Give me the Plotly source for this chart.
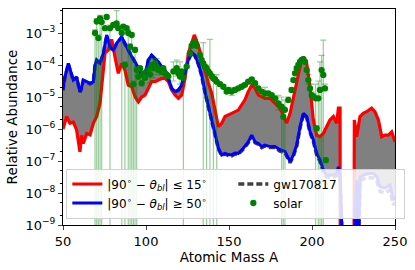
import plotly.graph_objects as go

# ---------------- data (log10 of relative abundance) ----------------
red_A = [50, 51, 52.2, 54.2, 56.2, 58.2, 59.5, 60.2, 61.2, 62.2, 64.3, 66.3, 68.3, 70.3, 72.3,
         74.3, 75.3, 77.3, 79.3, 81.3, 83.3, 85.3, 87.3, 89.3, 91.4, 93.4, 95.4, 97.4, 99.4,
         101.4, 103.4, 105.4, 107.4, 109.4, 111.4, 113.5, 115.5, 117.5, 119.5, 121.5, 123.5,
         125.5, 127.5, 129.1, 131.5, 133.5, 135.5, 137.6, 139.6, 141.6, 143.6, 145.6, 147.6,
         151.6, 155.6, 159.6, 161.6, 163.7, 165.7, 167.7, 169.7, 171.7, 174.7, 177.7, 180.7,
         182.7, 184.7, 186.8, 188.8, 190.8, 192.8, 194.8, 196.8, 198.8, 200.8, 202.8, 204.8,
         206.8, 208.8, 210.8, 212.9, 214.9, 215.9, 216.9, 217.2, 224.8, 225.5, 226.9, 228.9,
         230.9, 232.9, 235.9, 237.9, 240, 242, 244, 246, 248, 250]
red_log10 = [-6.0, -5.8, -5.61, -5.82, -5.78, -6.03, -6.5, -6.71, -6.2, -6.45, -6.14, -6.18, -5.82,
             -5.61, -5.2, -4.16, -3.63, -3.53, -3.2, -3.74, -4.26, -3.95, -4.16, -4.63, -4.68,
             -4.99, -5.15, -5.0, -4.94, -4.73, -4.52, -4.52, -4.47, -4.42, -4.42, -4.52, -4.78,
             -4.94, -5.04, -4.94, -4.42, -3.63, -3.32, -3.06, -3.38, -3.74, -4.16, -4.57, -4.89,
             -5.41, -5.93, -5.82, -5.61, -5.51, -5.41, -5.09, -4.83, -4.63, -4.73, -4.94, -5.0,
             -5.04, -5.04, -5.2, -5.35, -5.56, -5.82, -5.51, -4.99, -4.57, -4.05, -3.74, -3.95,
             -4.68, -5.72, -6.19, -6.24, -6.14, -5.93, -5.72, -5.61, -5.82, -5.35, -5.35, -20,
             -20, -5.72, -6.24, -5.61, -5.51, -5.46, -5.35, -5.46, -5.72, -6.24, -6.19, -6.19,
             -6.09, -6.4]

blue_A = [50, 51, 53.2, 54.5, 56.2, 58.2, 60.2, 61, 62.2, 64.3, 66.3, 68.3, 69.3, 70.3, 72.3,
          74.3, 76.3, 78.3, 80.3, 82.3, 84.3, 85.3, 87.3, 89.3, 91.4, 93.4, 95.4, 97.4, 99.4,
          101.4, 103.4, 105.4, 107.4, 109.4, 111.4, 113.5, 115.5, 117.5, 119.5, 121.5, 123.5,
          125.5, 127.5, 129.5, 131.5, 133.5, 135.5, 137.6, 139.6, 141.6, 143.6, 145.6, 147.6,
          149.6, 151.6, 153.6, 155.6, 158.6, 161.6, 163.7, 165.7, 167.7, 169.7, 171.7, 174.7,
          177.7, 180.7, 183.7, 186.8, 188.8, 190.8, 192.8, 194.8, 196.8, 198.8, 200.8, 202.8,
          204.8, 206.8, 208.8, 210.8, 212.9, 214.9, 215.9, 216.9, 217.2, 225, 226, 227, 228,
          229, 231, 234, 237, 239, 241, 244, 247, 249, 250]
blue_log10 = [-4.78, -4.4, -3.95, -4.2, -4.47, -4.37, -4.83, -4.75, -4.47, -4.52, -4.57, -4.52,
              -4.0, -3.84, -3.94, -3.63, -3.06, -3.43, -3.53, -3.32, -3.17, -3.12, -3.32, -3.53,
              -3.74, -3.9, -4.1, -4.31, -4.31, -3.84, -3.69, -3.79, -3.9, -4.05, -4.16, -4.42,
              -4.73, -4.83, -4.78, -4.63, -4.26, -3.84, -3.6, -3.7, -3.95, -4.31, -4.83, -5.3,
              -5.72, -6.24, -6.6, -6.81, -6.76, -6.8, -6.81, -6.75, -6.76, -6.6, -6.4, -6.19,
              -6.4, -6.45, -6.55, -6.5, -6.55, -6.55, -6.65, -6.7, -7.02, -6.81, -6.5, -5.93,
              -5.51, -5.61, -6.08, -6.34, -6.76, -6.97, -7.28, -7.44, -7.44, -7.44, -7.39, -7.18,
              -7.4, -20, -20, -8.5, -7.6, -9.5, -7.49, -7.44, -7.39, -7.39, -7.49, -7.8, -7.85,
              -7.75, -8.22, -8.1]

gw_log10 = [-4.8, -4.43, -3.97, -4.22, -4.49, -4.39, -4.85, -4.77, -4.49, -4.54, -4.59, -4.54,
            -4.02, -3.86, -3.96, -3.65, -3.08, -3.45, -3.55, -3.34, -3.19, -3.14, -3.34, -3.55,
            -3.76, -3.92, -4.12, -4.33, -4.33, -3.86, -3.71, -3.81, -3.92, -4.07, -4.18, -4.44,
            -4.75, -4.85, -4.8, -4.65, -4.28, -3.86, -3.62, -3.72, -3.97, -4.33, -4.85, -5.32,
            -5.74, -6.26, -6.62, -6.83, -6.78, -6.83, -6.84, -6.78, -6.79, -6.63, -6.43, -6.22,
            -6.43, -6.48, -6.58, -6.53, -6.58, -6.58, -6.69, -6.74, -7.05, -6.84, -6.53, -5.96,
            -5.54, -5.64, -6.11, -6.38, -6.8, -7.01, -7.32, -7.5, -7.5, -7.5, -7.45, -7.25,
            -7.46, -20, -20, -8.7, -7.72, -9.6, -7.6, -7.56, -7.52, -7.53, -7.63, -7.95, -8.0,
            -7.91, -8.38, -8.28]

# solar: A, log10 value, log10 upper bound, log10 lower bound (-12 = below axis)
solar_A = [69.3, 70.3, 71.3, 72.3, 73.3, 75.3, 76.3, 78.3, 80.3, 82.3, 83.3, 85.4, 86.3, 87.3,
           88.3, 89.3, 90.4, 91.4, 92.4, 93.4, 94.4, 95.4, 96.4, 97.4, 98.4, 99.4, 101.4, 102.4,
           103.4, 104.4, 105.4, 106.4, 107.4, 109.4, 110.4, 111.4, 112.4, 113.4, 116.5, 118.5,
           119.5, 120.5, 121.5, 122.5, 124.5, 126.5, 127.5, 128.5, 129.5, 130.5, 132.5, 133.5,
           134.5, 135.5, 136.5, 137.5, 138.5, 139.6, 140.6, 141.6, 142.6, 144.6, 146.6, 148.6,
           149.6, 151.6, 153.6, 155.6, 157.6, 159.6, 161.6, 163.7, 165.7, 167.7, 169.7, 171.7,
           173.7, 175.7, 177.7, 179.7, 181.7, 182.7, 183.7, 185.7, 187.7, 188.8, 189.8, 190.8,
           191.8, 192.8, 193.8, 194.8, 195.8, 196.8, 197.8, 198.8, 199.8, 201.0, 202.2, 202.8,
           203.8, 204.8, 205.8, 206.8, 207.8, 208.3]
solar_log10 = [-3.0, -2.64, -3.16, -2.54, -2.66, -2.85, -2.5, -2.85, -2.75, -2.7, -2.85, -3.0,
               -2.8, -4.0, -2.85, -3.0, -3.43, -3.06, -4.6, -3.53, -4.16, -4.36, -4.1, -4.57,
               -4.26, -4.4, -4.16, -4.3, -4.0, -4.1, -3.95, -4.05, -4.15, -4.21, -4.1, -4.26,
               -4.3, -4.35, -4.2, -4.1, -4.26, -4.36, -4.2, -4.4, -4.05, -3.64, -3.4, -3.32,
               -3.27, -3.4, -3.69, -3.85, -3.95, -4.05, -4.1, -4.2, -4.26, -4.35, -4.42, -4.45,
               -4.52, -4.6, -4.68, -4.83, -4.78, -4.83, -4.78, -4.73, -4.68, -4.62, -4.52, -4.45,
               -4.57, -4.73, -4.83, -4.89, -4.89, -4.94, -5.04, -5.2, -5.3, -5.62, -5.4, -5.09,
               -4.78, -4.47, -4.26, -4.1, -4.0, -3.9, -3.84, -3.82, -3.9, -4.16, -4.47, -4.73,
               -4.94, -5.0, -5.04, -5.98, -5.04, -4.78, -4.16, -4.31, -4.73, -6.97]
solar_up = [-2.9, -2.55, -3.05, -2.45, -2.55, -2.8, -2.45, -2.75, -2.7, -2.3, -2.8, -2.9,
            -2.75, -3.9, -2.8, -2.9, -3.35, -3.0, -4.5, -3.45, -4.05, -4.3, -4.05, -4.5,
            -4.2, -4.35, -4.1, -4.05, -3.95, -3.8, -3.9, -3.8, -4.1, -4.15, -4.05, -4.2,
            -4.25, -4.3, -3.9, -3.85, -4.2, -3.9, -4.15, -4.3, -4.0, -3.6, -3.35, -3.28,
            -3.23, -3.35, -3.6, -3.8, -3.3, -4.0, -4.0, -4.15, -3.2, -4.3, -4.35, -4.4,
            -4.3, -4.55, -4.62, -4.78, -4.73, -4.7, -4.73, -4.68, -4.62, -4.57, -4.48, -4.4,
            -4.52, -4.68, -4.78, -4.7, -4.84, -4.89, -4.99, -4.95, -5.0, -5.3, -5.1, -5.0,
            -4.72, -4.42, -4.2, -4.05, -3.95, -3.85, -3.8, -3.78, -3.85, -4.1, -4.3, -4.6,
            -4.85, -4.9, -4.6, -5.9, -4.5, -3.9, -3.7, -3.22, -4.6, -6.9]
solar_lo = [-12, -12, -12, -12, -12, -2.9, -2.55, -12, -2.8, -2.75, -2.9, -12,
            -2.85, -12, -2.9, -12, -12, -12, -12, -12, -12, -4.45, -4.15, -4.65,
            -4.3, -4.45, -4.2, -4.55, -4.05, -4.4, -4.0, -4.3, -4.2, -4.3, -4.15, -4.3,
            -4.35, -4.4, -4.5, -4.35, -4.3, -4.6, -4.25, -12, -4.1, -3.7, -3.45, -3.36,
            -3.31, -3.45, -3.75, -3.9, -12, -4.1, -12, -4.25, -12, -4.4, -12, -4.5,
            -12, -4.65, -4.74, -4.88, -4.83, -4.95, -4.83, -4.78, -4.74, -4.67, -4.56, -4.5,
            -4.62, -4.78, -4.88, -5.05, -4.94, -4.99, -5.09, -5.4, -12, -12, -12, -5.15,
            -4.84, -4.52, -4.3, -4.15, -4.05, -3.95, -3.88, -3.86, -3.95, -4.2, -4.6, -4.8,
            -5.0, -5.05, -12, -6.05, -12, -12, -12, -12, -4.8, -7.05]

x_ticks = [50, 100, 150, 200, 250]
y_tickvals = [1e-9, 1e-8, 1e-7, 1e-6, 1e-5, 1e-4, 1e-3]
y_ticktext = ["10<sup>−9</sup>", "10<sup>−8</sup>", "10<sup>−7</sup>", "10<sup>−6</sup>",
              "10<sup>−5</sup>", "10<sup>−4</sup>", "10<sup>−3</sup>"]

# ---------------- conversion ----------------
red = [10 ** v for v in red_log10]
blue = [10 ** v for v in blue_log10]
gw = [10 ** v for v in gw_log10]
solar = [10 ** v for v in solar_log10]
s_plus = [10 ** u - 10 ** v for u, v in zip(solar_up, solar_log10)]
s_minus = [10 ** v - 10 ** l for l, v in zip(solar_lo, solar_log10)]

FONT = "DejaVu Sans"
fig = go.Figure()

# gray band between the two curves
fig.add_trace(go.Scatter(x=blue_A, y=blue, mode="lines", line=dict(width=0, color="gray"),
                         showlegend=False, hoverinfo="skip"))
fig.add_trace(go.Scatter(x=red_A, y=red, mode="lines", line=dict(width=0, color="gray"),
                         fill="tonexty", fillcolor="rgb(128,128,128)", showlegend=False,
                         hoverinfo="skip"))

fig.add_trace(go.Scatter(x=red_A, y=red, mode="lines", line=dict(color="#ff0000", width=3.2),
                         name="|90<sup>∘</sup> − <i>θ<sub>bl</sub></i>| ≤ 15<sup>∘</sup>",
                         legendrank=1))
fig.add_trace(go.Scatter(x=blue_A, y=gw, mode="lines",
                         line=dict(color="#404040", width=3.6, dash="6px,3px"),
                         name="gw170817", legendrank=2))
fig.add_trace(go.Scatter(x=blue_A, y=blue, mode="lines", line=dict(color="#0000ff", width=3),
                         name="|90<sup>∘</sup> − <i>θ<sub>bl</sub></i>| ≥ 50<sup>∘</sup>",
                         legendrank=3))
fig.add_trace(go.Scatter(x=solar_A, y=solar, mode="markers",
                         marker=dict(color="#008000", size=6.3),
                         error_y=dict(type="data", array=s_plus, arrayminus=s_minus,
                                      color="rgba(0,128,0,0.4)", thickness=1.2, width=3),
                         name="solar", legendrank=4))

fig.update_layout(
    width=415, height=270,
    margin=dict(l=63, r=20, t=9, b=45),
    paper_bgcolor="white", plot_bgcolor="white",
    font=dict(family=FONT, size=13, color="black"),
    legend=dict(orientation="h", traceorder="normal", x=0.01, y=0.03,
                xanchor="left", yanchor="bottom",
                entrywidth=0.5, entrywidthmode="fraction",
                bgcolor="rgba(255,255,255,0.85)", bordercolor="#d0d0d0", borderwidth=1,
                font=dict(family=FONT, size=12), itemwidth=30),
    showlegend=True,
)
fig.update_xaxes(range=[50, 250], tickvals=x_ticks, ticks="outside", ticklen=4,
                 showline=True, linecolor="black", linewidth=1, mirror=True,
                 showgrid=False, zeroline=False,
                 title=dict(text="Atomic Mass A", font=dict(size=13.5), standoff=2),
                 tickfont=dict(size=13))
fig.update_yaxes(type="log", range=[-9, -2.25], tickmode="array", tickvals=y_tickvals,
                 ticktext=y_ticktext, ticks="outside", ticklen=4,
                 minor=dict(ticks="outside", ticklen=2, tickcolor="black", showgrid=False),
                 showline=True, linecolor="black", linewidth=1, mirror=True,
                 showgrid=False, zeroline=False,
                 title=dict(text="Relative Abundance", font=dict(size=13.5), standoff=4),
                 tickfont=dict(size=13))

fig.write_html("out.html", config={"displayModeBar": False},
               post_script="document.body.style.margin='0';")
